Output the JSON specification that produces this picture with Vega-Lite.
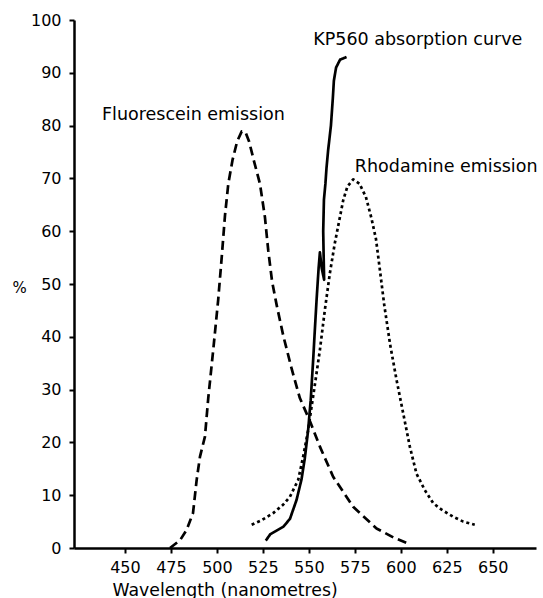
{
  "$schema": "https://vega.github.io/schema/vega-lite/v6.json",
  "autosize": "none",
  "width": 462,
  "height": 528,
  "padding": {"left": 74, "top": 20, "right": 7, "bottom": 50},
  "background": "white",
  "config": {
    "view": {"stroke": null},
    "axis": {
      "grid": false,
      "domainColor": "black",
      "domainWidth": 2.5,
      "tickColor": "black",
      "tickWidth": 2,
      "tickSize": 5,
      "labelColor": "black",
      "labelFont": "DejaVu Sans",
      "labelFontSize": 16,
      "titleColor": "black",
      "titleFont": "DejaVu Sans",
      "titleFontWeight": "normal",
      "titleFontSize": 17.3
    }
  },
  "datasets": {
    "curves": [
      {"series": "Fluorescein", "order": 1, "x": 474.5, "y": 0},
      {"series": "Fluorescein", "order": 2, "x": 480, "y": 1.5},
      {"series": "Fluorescein", "order": 3, "x": 483.5, "y": 3.4},
      {"series": "Fluorescein", "order": 4, "x": 487, "y": 6.6},
      {"series": "Fluorescein", "order": 5, "x": 489, "y": 12.9},
      {"series": "Fluorescein", "order": 6, "x": 490.8, "y": 17.3},
      {"series": "Fluorescein", "order": 7, "x": 493.5, "y": 21.1},
      {"series": "Fluorescein", "order": 8, "x": 495.3, "y": 28.4},
      {"series": "Fluorescein", "order": 9, "x": 498, "y": 37.5},
      {"series": "Fluorescein", "order": 10, "x": 500.7, "y": 47},
      {"series": "Fluorescein", "order": 11, "x": 502.6, "y": 55},
      {"series": "Fluorescein", "order": 12, "x": 504.4, "y": 63},
      {"series": "Fluorescein", "order": 13, "x": 506.2, "y": 69},
      {"series": "Fluorescein", "order": 14, "x": 508.5, "y": 73.5},
      {"series": "Fluorescein", "order": 15, "x": 511, "y": 77},
      {"series": "Fluorescein", "order": 16, "x": 513.5, "y": 78.9},
      {"series": "Fluorescein", "order": 17, "x": 515.5, "y": 78.8},
      {"series": "Fluorescein", "order": 18, "x": 517.5, "y": 77},
      {"series": "Fluorescein", "order": 19, "x": 520, "y": 73.5},
      {"series": "Fluorescein", "order": 20, "x": 523.4, "y": 69},
      {"series": "Fluorescein", "order": 21, "x": 526.1, "y": 62.7},
      {"series": "Fluorescein", "order": 22, "x": 527.9, "y": 56.4},
      {"series": "Fluorescein", "order": 23, "x": 530, "y": 50.5},
      {"series": "Fluorescein", "order": 24, "x": 532.5, "y": 46},
      {"series": "Fluorescein", "order": 25, "x": 536.1, "y": 40.2},
      {"series": "Fluorescein", "order": 26, "x": 540.6, "y": 34},
      {"series": "Fluorescein", "order": 27, "x": 545.1, "y": 28.4},
      {"series": "Fluorescein", "order": 28, "x": 550.6, "y": 24},
      {"series": "Fluorescein", "order": 29, "x": 556, "y": 19.2},
      {"series": "Fluorescein", "order": 30, "x": 563.2, "y": 13.5},
      {"series": "Fluorescein", "order": 31, "x": 574.1, "y": 7.8},
      {"series": "Fluorescein", "order": 32, "x": 586.8, "y": 3.7},
      {"series": "Fluorescein", "order": 33, "x": 596, "y": 2},
      {"series": "Fluorescein", "order": 34, "x": 603, "y": 1},
      {"series": "Rhodamine", "order": 1, "x": 518.9, "y": 4.4},
      {"series": "Rhodamine", "order": 2, "x": 524, "y": 5.2},
      {"series": "Rhodamine", "order": 3, "x": 530.6, "y": 6.6},
      {"series": "Rhodamine", "order": 4, "x": 536, "y": 8.2},
      {"series": "Rhodamine", "order": 5, "x": 539.7, "y": 9.7},
      {"series": "Rhodamine", "order": 6, "x": 544.2, "y": 12.9},
      {"series": "Rhodamine", "order": 7, "x": 546.9, "y": 17.3},
      {"series": "Rhodamine", "order": 8, "x": 549.6, "y": 22.3},
      {"series": "Rhodamine", "order": 9, "x": 551.5, "y": 26.8},
      {"series": "Rhodamine", "order": 10, "x": 553.3, "y": 31},
      {"series": "Rhodamine", "order": 11, "x": 556, "y": 37.5},
      {"series": "Rhodamine", "order": 12, "x": 558.7, "y": 45.1},
      {"series": "Rhodamine", "order": 13, "x": 561.4, "y": 52},
      {"series": "Rhodamine", "order": 14, "x": 564.1, "y": 57.7},
      {"series": "Rhodamine", "order": 15, "x": 566.9, "y": 62.7},
      {"series": "Rhodamine", "order": 16, "x": 568.7, "y": 65.9},
      {"series": "Rhodamine", "order": 17, "x": 571, "y": 68.5},
      {"series": "Rhodamine", "order": 18, "x": 574.1, "y": 69.8},
      {"series": "Rhodamine", "order": 19, "x": 577.5, "y": 69},
      {"series": "Rhodamine", "order": 20, "x": 581, "y": 66.5},
      {"series": "Rhodamine", "order": 21, "x": 584, "y": 62.5},
      {"series": "Rhodamine", "order": 22, "x": 586.5, "y": 58.5},
      {"series": "Rhodamine", "order": 23, "x": 588.5, "y": 53},
      {"series": "Rhodamine", "order": 24, "x": 591, "y": 46},
      {"series": "Rhodamine", "order": 25, "x": 594.2, "y": 38.5},
      {"series": "Rhodamine", "order": 26, "x": 597.7, "y": 31.8},
      {"series": "Rhodamine", "order": 27, "x": 601.3, "y": 25.5},
      {"series": "Rhodamine", "order": 28, "x": 604.9, "y": 19.2},
      {"series": "Rhodamine", "order": 29, "x": 608.5, "y": 14.1},
      {"series": "Rhodamine", "order": 30, "x": 613, "y": 11},
      {"series": "Rhodamine", "order": 31, "x": 617.6, "y": 8.5},
      {"series": "Rhodamine", "order": 32, "x": 622, "y": 7.3},
      {"series": "Rhodamine", "order": 33, "x": 628.5, "y": 5.9},
      {"series": "Rhodamine", "order": 34, "x": 634, "y": 5},
      {"series": "Rhodamine", "order": 35, "x": 640.2, "y": 4.4},
      {"series": "KP560", "order": 1, "x": 526.6, "y": 1.4},
      {"series": "KP560", "order": 2, "x": 529, "y": 2.6},
      {"series": "KP560", "order": 3, "x": 532, "y": 3.2},
      {"series": "KP560", "order": 4, "x": 536, "y": 4},
      {"series": "KP560", "order": 5, "x": 539.7, "y": 5.5},
      {"series": "KP560", "order": 6, "x": 543.3, "y": 9.1},
      {"series": "KP560", "order": 7, "x": 546, "y": 13},
      {"series": "KP560", "order": 8, "x": 547.8, "y": 17},
      {"series": "KP560", "order": 9, "x": 549.6, "y": 22.3},
      {"series": "KP560", "order": 10, "x": 551, "y": 28},
      {"series": "KP560", "order": 11, "x": 552.4, "y": 36},
      {"series": "KP560", "order": 12, "x": 553.2, "y": 41},
      {"series": "KP560", "order": 13, "x": 554.2, "y": 47},
      {"series": "KP560", "order": 14, "x": 555.3, "y": 53},
      {"series": "KP560", "order": 15, "x": 556, "y": 56},
      {"series": "KP560", "order": 16, "x": 557, "y": 53},
      {"series": "KP560", "order": 17, "x": 558.3, "y": 50.8},
      {"series": "KP560", "order": 18, "x": 558, "y": 56},
      {"series": "KP560", "order": 19, "x": 557.8, "y": 60},
      {"series": "KP560", "order": 20, "x": 558.2, "y": 66},
      {"series": "KP560", "order": 21, "x": 559, "y": 69},
      {"series": "KP560", "order": 22, "x": 559.6, "y": 72},
      {"series": "KP560", "order": 23, "x": 560.5, "y": 75.4},
      {"series": "KP560", "order": 24, "x": 562, "y": 80},
      {"series": "KP560", "order": 25, "x": 563, "y": 85},
      {"series": "KP560", "order": 26, "x": 563.6, "y": 88.5},
      {"series": "KP560", "order": 27, "x": 564.8, "y": 91},
      {"series": "KP560", "order": 28, "x": 567, "y": 92.5},
      {"series": "KP560", "order": 29, "x": 570.5, "y": 93}
    ],
    "labels": [
      {"label": "Fluorescein emission", "x": 437.5, "y": 82},
      {"label": "KP560 absorption curve", "x": 552.4, "y": 96.2},
      {"label": "Rhodamine emission", "x": 575, "y": 72.2}
    ]
  },
  "layer": [
    {
      "data": {"name": "curves"},
      "mark": {"type": "line", "color": "black", "strokeWidth": 2.7, "strokeCap": "butt", "strokeJoin": "round"},
      "encoding": {
        "x": {
          "field": "x", "type": "quantitative",
          "scale": {"domain": [422.3, 673.5], "nice": false, "zero": false},
          "axis": {
            "values": [450, 475, 500, 525, 550, 575, 600, 625, 650],
            "labelPadding": 6,
            "title": "Wavelength (nanometres)",
            "titleX": 38,
            "titleY": 47,
            "titleAlign": "left",
            "titleAnchor": null,
            "titleBaseline": "alphabetic"
          }
        },
        "y": {
          "field": "y", "type": "quantitative",
          "scale": {"domain": [0, 100], "nice": false},
          "axis": {
            "values": [0, 10, 20, 30, 40, 50, 60, 70, 80, 90, 100],
            "labelPadding": 8,
            "title": "%",
            "titleAngle": 0,
            "titleFontSize": 15,
            "titleX": -55,
            "titleY": 267,
            "titleAlign": "center",
            "titleBaseline": "middle"
          }
        },
        "detail": {"field": "series"},
        "order": {"field": "order", "type": "quantitative"},
        "strokeDash": {
          "field": "series", "type": "nominal",
          "scale": {"domain": ["Fluorescein", "KP560", "Rhodamine"], "range": [[9, 5], [1, 0], [3, 3]]},
          "legend": null
        }
      }
    },
    {
      "data": {"name": "labels"},
      "mark": {"type": "text", "align": "left", "baseline": "middle", "font": "DejaVu Sans", "fontSize": 17.5, "color": "black"},
      "encoding": {
        "x": {"field": "x", "type": "quantitative"},
        "y": {"field": "y", "type": "quantitative"},
        "text": {"field": "label"}
      }
    }
  ]
}
